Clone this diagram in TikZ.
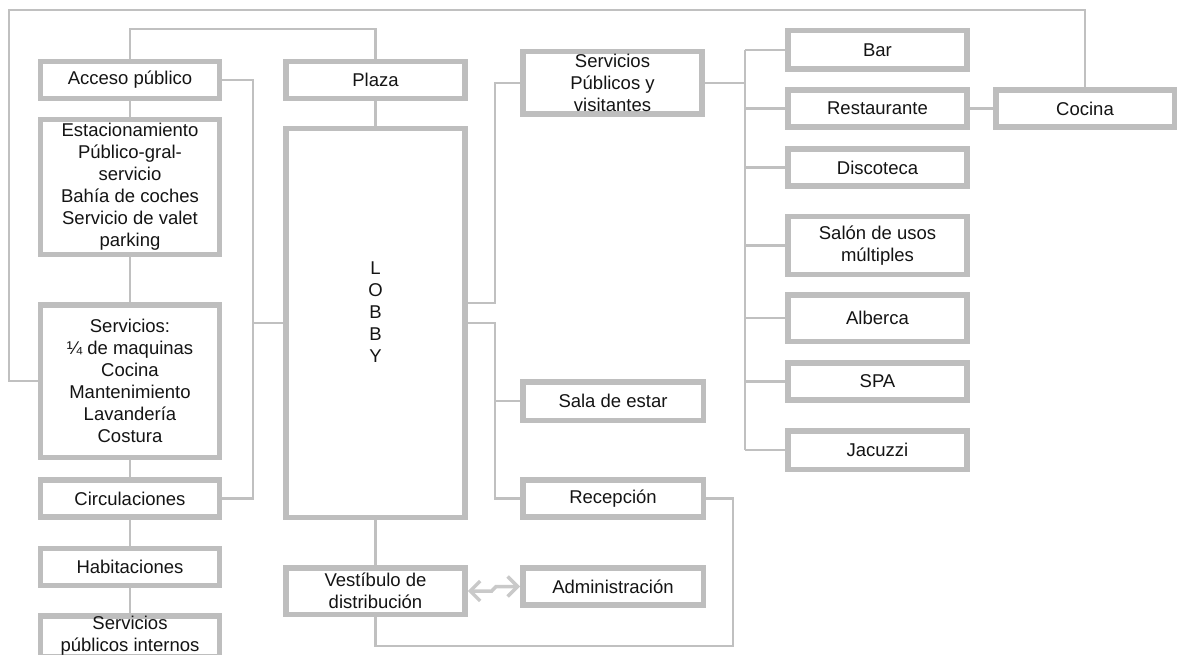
\documentclass[tikz,border=0pt]{standalone}
\usepackage{fontspec}
\setmainfont{Liberation Sans}
\usepackage{xcolor}
\usepackage{tikz}
\usetikzlibrary{arrows.meta}

\definecolor{marco}{RGB}{190,190,190}
\definecolor{linea}{RGB}{192,192,192}
\definecolor{texto}{RGB}{20,20,20}

\tikzset{
  caja/.style={draw=marco, line width=5.5pt, fill=white, text=texto, align=center,
    inner sep=0pt, minimum width=179pt, minimum height=37pt,
    font=\fontsize{18.5}{22}\selectfont},
  union/.style={draw=linea, line width=2.3pt},
  doble/.style={draw=linea!85, line width=3.5pt,
    {Straight Barb[length=10pt,width=20pt]}-{Straight Barb[length=10pt,width=20pt]}}
}

\begin{document}
\begin{tikzpicture}[x=1pt,y=-1pt]
                    \useasboundingbox (0,0) rectangle (1178,655);
                    \clip (0,0) rectangle (1178,655);
                    \node[caja] (acceso) at (130,80) {Acceso público};
                    \node[caja, minimum height=134.5pt] (estac) at (130,187) {Estacionamiento\\Público-gral-\\servicio\\Bahía de coches\\Servicio de valet\\parking};
                    \node[caja, minimum height=152.5pt] (servint) at (130,381) {Servicios:\\¼ de maquinas\\Cocina\\Mantenimiento\\Lavandería\\Costura};
                    \node[caja] (circ) at (130,498.5) {Circulaciones};
                    \node[caja] (habit) at (130,567) {Habitaciones};
                    \node[caja, minimum height=40.5pt] (spi) at (130,636) {Servicios\\públicos internos};
                    \node[caja] (plaza) at (375.5,80) {Plaza};
                    \node[caja, minimum height=388.5pt] (lobby) at (375.5,323) {L\\O\\B\\B\\Y\\\mbox{}};
                    \node[caja, minimum height=46.5pt] (vestib) at (375.5,591) {Vestíbulo de\\distribución};
                    \node[caja, minimum height=62.5pt] (spv) at (612.5,83) {Servicios\\Públicos y\\visitantes};
                    \node[caja, minimum width=180.5pt, minimum height=38.5pt] (sala) at (613,401) {Sala de estar};
                    \node[caja, minimum width=180.5pt] (recep) at (613,498.5) {Recepción};
                    \node[caja, minimum width=180.5pt] (admin) at (613,586.5) {Administración};
                    \node[caja, minimum height=38.5pt] (bar) at (877.5,50) {Bar};
                    \node[caja] (rest) at (877.5,108.5) {Restaurante};
                    \node[caja] (disco) at (877.5,167.5) {Discoteca};
                    \node[caja, minimum height=57.5pt] (salon) at (877.5,245.5) {Salón de usos\\múltiples};
                    \node[caja, minimum height=46.5pt] (alberca) at (877.5,318) {Alberca};
                    \node[caja] (spa) at (877.5,381.5) {SPA};
                    \node[caja, minimum height=38.5pt] (jacuzzi) at (877.5,450) {Jacuzzi};
                    \node[caja, minimum width=178.5pt] (cocina) at (1085,108.5) {Cocina};
                    \coordinate (esquina) at (9,10);
                    \coordinate (busS) at (745,0);
                    \draw[union] (servint.west) -| (esquina) -| (cocina.north);
                    \draw[union] (acceso.north) -- ++(0,-30) -| (plaza.north);
                    \draw[union] (acceso.south) -- (estac.north);
                    \draw[union] (estac.south) -- (servint.north);
                    \draw[union] (servint.south) -- (circ.north);
                    \draw[union] (circ.south) -- (habit.north);
                    \draw[union] (habit.south) -- (spi.north);
                    \draw[union] (acceso.east) -- ++(31,0) |- (circ.east);
                    \draw[union] (lobby.west) -- ++(-30,0);
                    \draw[union] (plaza.south) -- (lobby.north);
                    \draw[union] (lobby.south) -- (vestib.north);
                    \draw[union] ([yshift=20pt]lobby.east) -- ++(27,0) |- (spv.west);
                    \draw[union] (lobby.east) -- ++(27,0) |- (recep.west);
                    \draw[union] ([xshift=27pt]lobby.east) |- (sala.west);
                    \draw[union] (spv.east) -- (busS |- spv.east);
                    \draw[union] (busS |- bar.west) -- (busS |- jacuzzi.west);
                    \foreach \n in {bar,rest,disco,salon,alberca,spa,jacuzzi}
                        \draw[union] (\n.west) -- (busS |- \n.west);
                    \draw[union] (rest.east) -- (cocina.west);
                    \draw[union] (vestib.south) -- ++(0,29) -| ([xshift=27pt]recep.east) -- (recep.east);
                    \draw[doble] (vestib.east) -- ++(24,0) -- ([xshift=-24pt]admin.west) -- (admin.west);
                \end{tikzpicture}
\end{document}
